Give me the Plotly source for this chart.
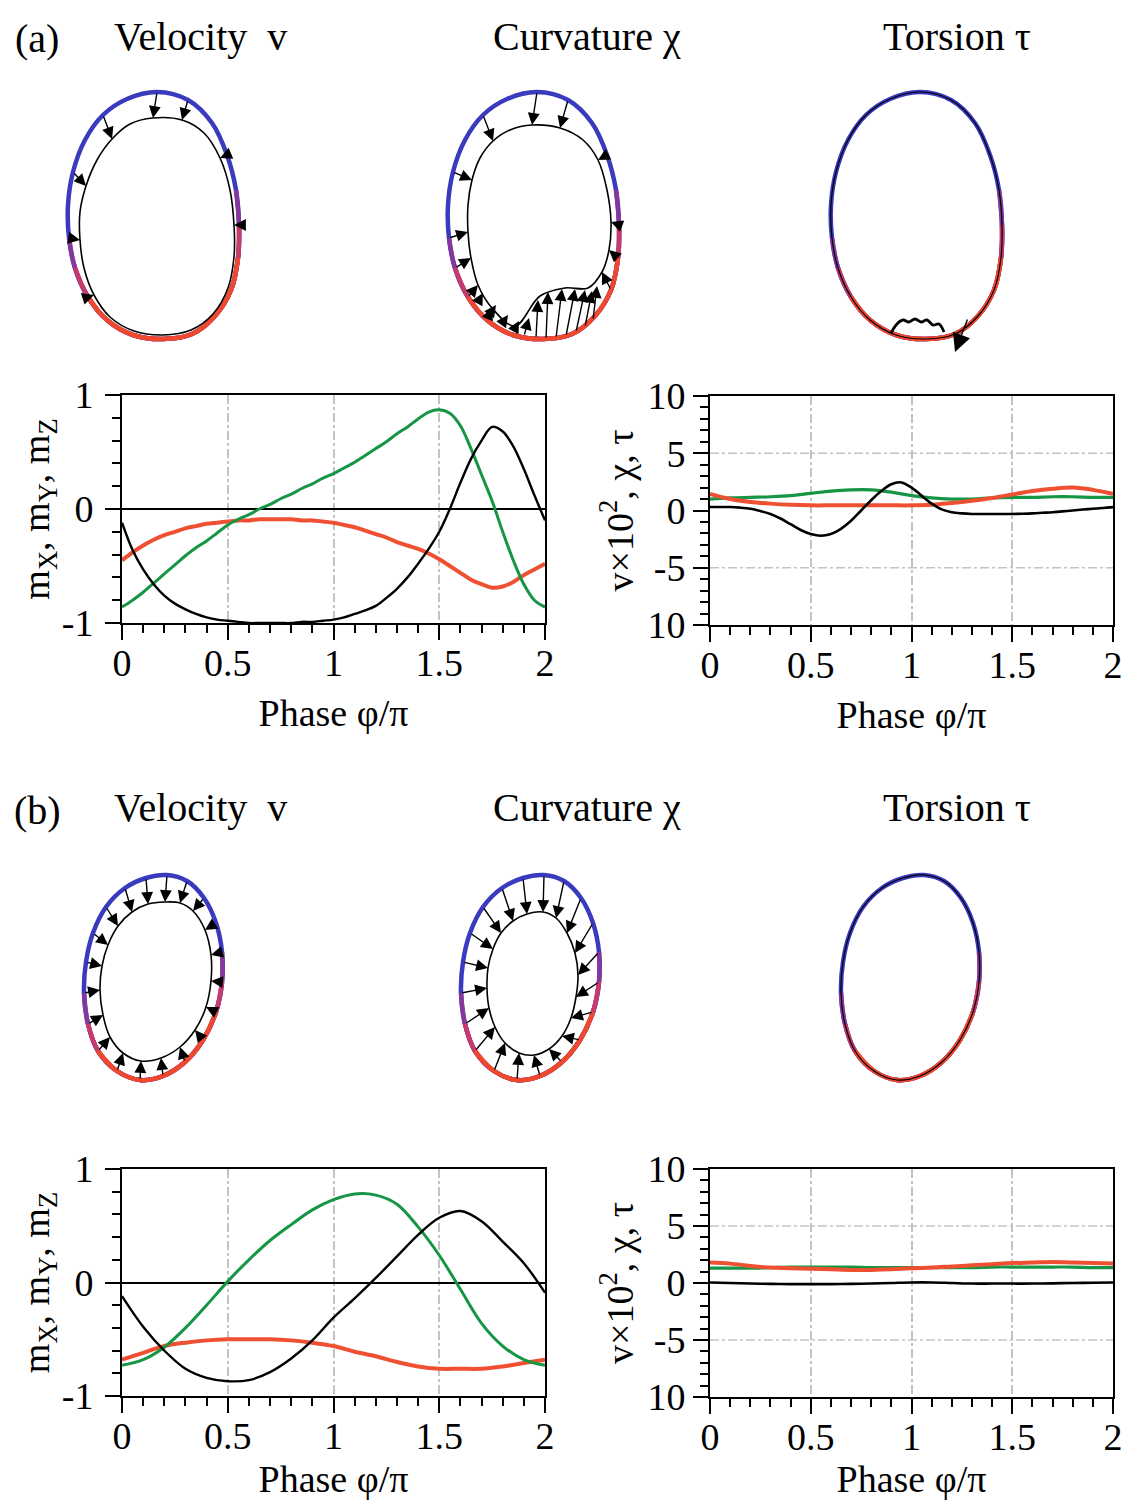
import plotly.graph_objects as go

FONT = "Liberation Serif"
# reference canvas is 1139x1508; the page body adds an 8px margin, so the figure is drawn 16px smaller
REF_W, REF_H = 1139, 1508
OFF = 8
W, H = REF_W - 2 * OFF, REF_H - 2 * OFF

# ---------------- line-plot data ----------------
phase41 = [0, 0.05, 0.1, 0.15, 0.2, 0.25, 0.3, 0.35, 0.4, 0.45, 0.5, 0.55, 0.6, 0.65, 0.7, 0.75,
           0.8, 0.85, 0.9, 0.95, 1.0, 1.05, 1.1, 1.15, 1.2, 1.25, 1.3, 1.35, 1.4, 1.45, 1.5, 1.55,
           1.6, 1.65, 1.7, 1.75, 1.8, 1.85, 1.9, 1.95, 2.0]
phase21 = [0, 0.1, 0.2, 0.3, 0.4, 0.5, 0.6, 0.7, 0.8, 0.9, 1.0, 1.1, 1.2, 1.3, 1.4, 1.5, 1.6,
           1.7, 1.8, 1.9, 2.0]

# panel (a) left : m components
m_black_a = [-0.12, -0.36, -0.53, -0.66, -0.76, -0.83, -0.88, -0.92, -0.95, -0.97, -0.98, -0.99,
             -1.0, -1.0, -1.0, -1.0, -1.0, -0.99, -0.99, -0.98, -0.97, -0.95, -0.92, -0.89, -0.85,
             -0.78, -0.70, -0.60, -0.48, -0.35, -0.2, 0.0, 0.23, 0.44, 0.6, 0.72, 0.68, 0.55, 0.35,
             0.12, -0.1]
m_green_a = [-0.86, -0.80, -0.73, -0.65, -0.57, -0.49, -0.41, -0.34, -0.28, -0.21, -0.14, -0.09,
             -0.05, 0.0, 0.04, 0.09, 0.13, 0.18, 0.22, 0.27, 0.31, 0.36, 0.41, 0.47, 0.53, 0.59,
             0.66, 0.72, 0.79, 0.85, 0.87, 0.84, 0.73, 0.53, 0.30, 0.07, -0.2, -0.45, -0.66, -0.80,
             -0.86]
m_red_a = [-0.45, -0.38, -0.32, -0.27, -0.23, -0.2, -0.17, -0.15, -0.13, -0.12, -0.11, -0.1, -0.1,
           -0.09, -0.09, -0.09, -0.09, -0.1, -0.1, -0.11, -0.12, -0.14, -0.16, -0.19, -0.22, -0.25,
           -0.29, -0.32, -0.35, -0.39, -0.44, -0.5, -0.56, -0.62, -0.66, -0.69, -0.68, -0.64, -0.58,
           -0.53, -0.48]

# panel (a) right : v*10^2, chi, tau
v_black_a = [0.3, 0.3, 0.3, 0.25, 0.15, -0.05, -0.3, -0.7, -1.2, -1.7, -2.05, -2.2, -2.05, -1.6,
             -0.9, 0.0, 0.9, 1.7, 2.3, 2.45, 2.0, 1.3, 0.6, 0.1, -0.15, -0.25, -0.3, -0.3, -0.3,
             -0.3, -0.3, -0.28, -0.25, -0.2, -0.15, -0.08, 0.0, 0.08, 0.15, 0.22, 0.3]
v_green_a = [1.0, 1.1, 1.15, 1.2, 1.3, 1.5, 1.7, 1.8, 1.8, 1.6, 1.3, 1.1, 1.0, 1.0, 1.1, 1.15,
             1.15, 1.2, 1.2, 1.15, 1.15]
v_red_a = [1.45, 1.0, 0.75, 0.6, 0.5, 0.45, 0.45, 0.45, 0.45, 0.45, 0.45, 0.5, 0.65, 0.85, 1.1,
           1.4, 1.7, 1.9, 2.0, 1.8, 1.45]

# panel (b) left
m_black_b = [-0.12, -0.39, -0.60, -0.76, -0.84, -0.87, -0.86, -0.79, -0.67, -0.51, -0.31, -0.14,
             0.04, 0.23, 0.42, 0.57, 0.63, 0.54, 0.36, 0.17, -0.09]
m_green_b = [-0.73, -0.68, -0.57, -0.40, -0.20, 0.01, 0.2, 0.37, 0.51, 0.64, 0.73, 0.78, 0.77,
             0.69, 0.49, 0.24, -0.06, -0.36, -0.56, -0.68, -0.73]
m_red_b = [-0.68, -0.62, -0.56, -0.53, -0.51, -0.5, -0.5, -0.5, -0.51, -0.53, -0.56, -0.61, -0.65,
           -0.7, -0.74, -0.76, -0.76, -0.76, -0.74, -0.71, -0.68]

# panel (b) right
v_black_b = [0.05, 0.0, -0.05, -0.08, -0.1, -0.1, -0.1, -0.08, -0.05, 0.0, 0.05, 0.05, 0.0, -0.05,
             -0.05, -0.05, -0.05, -0.03, 0.0, 0.02, 0.05]
v_green_b = [1.3, 1.3, 1.3, 1.35, 1.4, 1.4, 1.4, 1.4, 1.35, 1.35, 1.35, 1.35, 1.35, 1.35, 1.4, 1.4,
             1.4, 1.4, 1.4, 1.35, 1.35]
v_red_b = [1.8, 1.7, 1.5, 1.35, 1.3, 1.25, 1.2, 1.15, 1.15, 1.2, 1.3, 1.35, 1.45, 1.55, 1.65,
           1.75, 1.8, 1.85, 1.8, 1.75, 1.7]

x_tickvals = [0, 0.5, 1, 1.5, 2]
x_ticktext = ["0", "0.5", "1", "1.5", "2"]
m_tickvals = [-1, 0, 1]
m_ticktext = ["-1", "0", "1"]
v_tickvals = [-10, -5, 0, 5, 10]
v_ticktext = ["10", "-5", "0", "5", "10"]

# ---------------- loop drawings (local pixel units) ----------------
loop_a_x = [157, 127, 103, 85, 73, 68, 69, 75, 88, 107, 133, 163, 192, 215, 231, 238, 239, 236, 227, 212, 188]
loop_a_y = [92, 99, 115, 140, 172, 205, 238, 268, 297, 320, 335, 339, 334, 316, 290, 258, 225, 190, 155, 123, 100]
vel_in_a_x = [153, 130, 112, 97, 86, 80, 80, 84, 94, 110, 134, 163, 191, 213, 228, 234, 234, 230, 220, 204, 182]
vel_in_a_y = [118, 124, 139, 160, 186, 212, 240, 268, 295, 317, 331, 335, 330, 314, 288, 257, 225, 190, 158, 133, 120]
vel_arrows_a = [0, 2, 4, 6, 8, 16, 18, 20]
cur_in_a_x = [152, 130, 113, 100, 92, 88, 88, 91, 98, 112, 135, 160, 185, 208, 222, 229, 231, 227, 218, 203, 180]
cur_in_a_y = [125, 130, 141, 158, 180, 205, 232, 258, 285, 308, 326, 296, 288, 288, 272, 250, 222, 190, 160, 140, 128]
cur_arrows_a = [0, 2, 4, 6, 7, 8, 9, 14, 15, 16, 18, 20]
cur_extra_tail_x = [98, 109, 121, 133, 144, 156, 166, 176, 186, 196, 205, 213]
cur_extra_tail_y = [302, 315, 325, 332, 336, 338, 339, 338, 336, 332, 327, 320]
cur_extra_head_x = [103, 116, 128, 139, 149, 158, 168, 182, 195, 205, 212, 217]
cur_extra_head_y = [293, 305, 315, 321, 318, 300, 292, 289, 289, 290, 291, 286]
tor_bump_x = [128, 134, 140, 146, 152, 158, 164, 170, 176, 181]
tor_bump_y = [333, 324, 320, 322, 319, 322, 320, 325, 324, 332]
tor_arrow_tail = [205, 318]
tor_arrow_head = [192, 352]

loop_b_x = [167, 146, 125, 106, 93, 86, 84, 88, 98, 117, 140, 163, 185, 203, 216, 222, 222, 216, 204, 187]
loop_b_y = [875, 878, 888, 907, 933, 962, 993, 1024, 1051, 1071, 1080, 1076, 1062, 1040, 1012, 982, 952, 923, 898, 881]
vel_in_b_x = [165, 148, 132, 118, 108, 102, 100, 103, 110, 123, 141, 161, 180, 195, 206, 211, 211, 205, 193, 180]
vel_in_b_y = [902, 904, 912, 926, 945, 966, 990, 1015, 1037, 1053, 1061, 1058, 1047, 1030, 1007, 981, 955, 930, 911, 903]
cur_in_b_x = [166, 150, 136, 124, 116, 111, 110, 112, 118, 128, 142, 157, 172, 185, 194, 199, 201, 198, 190, 179]
cur_in_b_y = [912, 914, 921, 933, 949, 968, 988, 1008, 1027, 1043, 1053, 1055, 1049, 1036, 1018, 997, 975, 953, 933, 918]
all_arrows_b = list(range(20))

BLUE = "rgb(58,58,190)"
PURPLE = "rgb(135,55,155)"
MAGENTA = "rgb(200,58,105)"
RED = "rgb(238,72,45)"
LINE_RED = "rgb(240,80,50)"
LINE_GREEN = "rgb(22,150,68)"
GRID = "rgb(195,195,195)"

bands_a = [(6, 17, PURPLE), (7, 16, MAGENTA), (8, 15, RED)]
bands_b = [(6, 16, PURPLE), (7, 15, MAGENTA), (8, 14, RED)]

fig = go.Figure()


def dom_x(p0, p1):
    return [max(0.0, (p0 - OFF) / W), min(1.0, (p1 - OFF) / W)]


def dom_y(ptop, pbot):
    return [max(0.0, 1 - (pbot - OFF) / H), min(1.0, 1 - (ptop - OFF) / H)]


def closed(v):
    return list(v) + [v[0]]


def add_outer(xs, ys, xa, ya, bands, black_overlay=False):
    fig.add_trace(go.Scatter(x=closed(xs), y=closed(ys), mode="lines", xaxis=xa, yaxis=ya,
                             line=dict(color=BLUE, width=4.5, shape="spline"),
                             hoverinfo="skip", showlegend=False))
    for i0, i1, col in bands:
        fig.add_trace(go.Scatter(x=xs[i0:i1 + 1], y=ys[i0:i1 + 1], mode="lines", xaxis=xa, yaxis=ya,
                                 line=dict(color=col, width=4.5, shape="spline"),
                                 hoverinfo="skip", showlegend=False))
    if black_overlay:
        fig.add_trace(go.Scatter(x=closed(xs), y=closed(ys), mode="lines", xaxis=xa, yaxis=ya,
                                 line=dict(color="black", width=1.2, shape="spline"),
                                 hoverinfo="skip", showlegend=False))


def add_inner(xs, ys, xa, ya):
    fig.add_trace(go.Scatter(x=closed(xs), y=closed(ys), mode="lines", xaxis=xa, yaxis=ya,
                             line=dict(color="black", width=1.6, shape="spline"),
                             hoverinfo="skip", showlegend=False))


annotations = []


def arrow(xa, ya, tx, ty, hx, hy, size=1.7):
    annotations.append(dict(xref=xa, yref=ya, axref=xa, ayref=ya, x=hx, y=hy, ax=tx, ay=ty,
                            text="", showarrow=True, arrowhead=2, arrowsize=size, arrowwidth=1.4,
                            arrowcolor="black", standoff=0, startstandoff=0, font=dict(size=1)))


# row (a) loops
add_outer(loop_a_x, loop_a_y, "x5", "y5", bands_a)
add_inner(vel_in_a_x, vel_in_a_y, "x5", "y5")
for i in vel_arrows_a:
    arrow("x5", "y5", loop_a_x[i], loop_a_y[i], vel_in_a_x[i], vel_in_a_y[i])

add_outer(loop_a_x, loop_a_y, "x6", "y6", bands_a)
add_inner(cur_in_a_x, cur_in_a_y, "x6", "y6")
for i in cur_arrows_a:
    arrow("x6", "y6", loop_a_x[i], loop_a_y[i], cur_in_a_x[i], cur_in_a_y[i])
for tx, ty, hx, hy in zip(cur_extra_tail_x, cur_extra_tail_y, cur_extra_head_x, cur_extra_head_y):
    arrow("x6", "y6", tx, ty, hx, hy)

add_outer(loop_a_x, loop_a_y, "x7", "y7", bands_a, black_overlay=True)
fig.add_trace(go.Scatter(x=tor_bump_x, y=tor_bump_y, mode="lines", xaxis="x7", yaxis="y7",
                         line=dict(color="black", width=2.8, shape="spline"),
                         hoverinfo="skip", showlegend=False))
arrow("x7", "y7", tor_arrow_tail[0], tor_arrow_tail[1], tor_arrow_head[0], tor_arrow_head[1], size=2.6)

# row (b) loops
add_outer(loop_b_x, loop_b_y, "x8", "y8", bands_b)
add_inner(vel_in_b_x, vel_in_b_y, "x8", "y8")
for i in all_arrows_b:
    arrow("x8", "y8", loop_b_x[i], loop_b_y[i], vel_in_b_x[i], vel_in_b_y[i])

add_outer(loop_b_x, loop_b_y, "x9", "y9", bands_b)
add_inner(cur_in_b_x, cur_in_b_y, "x9", "y9")
for i in all_arrows_b:
    arrow("x9", "y9", loop_b_x[i], loop_b_y[i], cur_in_b_x[i], cur_in_b_y[i])

add_outer(loop_b_x, loop_b_y, "x10", "y10", bands_b, black_overlay=True)

# ---------------- line plots ----------------
def line(x, y, xa, ya, color, width):
    fig.add_trace(go.Scatter(x=x, y=y, mode="lines", xaxis=xa, yaxis=ya,
                             line=dict(color=color, width=width, shape="spline"),
                             hoverinfo="skip", showlegend=False))


line(phase41, m_red_a, "x", "y", LINE_RED, 4)
line(phase41, m_green_a, "x", "y", LINE_GREEN, 3)
line(phase41, m_black_a, "x", "y", "black", 2.4)

line(phase21, v_green_a, "x2", "y2", LINE_GREEN, 3.2)
line(phase21, v_red_a, "x2", "y2", LINE_RED, 4)
line(phase41, v_black_a, "x2", "y2", "black", 2.6)

line(phase21, m_red_b, "x3", "y3", LINE_RED, 4)
line(phase21, m_green_b, "x3", "y3", LINE_GREEN, 3)
line(phase21, m_black_b, "x3", "y3", "black", 2.4)

line(phase21, v_green_b, "x4", "y4", LINE_GREEN, 3.2)
line(phase21, v_red_b, "x4", "y4", LINE_RED, 4)
line(phase21, v_black_b, "x4", "y4", "black", 2.6)

tickfont = dict(family=FONT, size=38, color="black")
titlefont = dict(family=FONT, size=38, color="black")


def xax(domain, anchor):
    return dict(domain=domain, anchor=anchor, range=[0, 2], tickmode="array", automargin=False,
                tickvals=x_tickvals, ticktext=x_ticktext, ticks="outside", ticklen=15,
                tickwidth=2, tickcolor="black", ticklabelstandoff=-10,
                minor=dict(dtick=0.1, tick0=0, ticks="outside", ticklen=8, tickwidth=2,
                           tickcolor="black", showgrid=False),
                showline=True, linewidth=2, linecolor="black", mirror=True,
                showgrid=True, gridcolor=GRID, griddash="dashdot", gridwidth=1.5,
                zeroline=False, tickfont=tickfont,
                title=dict(text="Phase φ/π", font=titlefont, standoff=17))


def yax_m(domain, anchor):
    return dict(domain=domain, anchor=anchor, range=[-1, 1], tickmode="array", automargin=False,
                tickvals=m_tickvals, ticktext=m_ticktext, ticks="outside", ticklen=15,
                tickwidth=2, tickcolor="black", ticklabelstandoff=4,
                minor=dict(dtick=0.2, tick0=0, ticks="outside", ticklen=8, tickwidth=2,
                           tickcolor="black", showgrid=False),
                showline=True, linewidth=2, linecolor="black", mirror=True,
                showgrid=False, zeroline=True, zerolinecolor="black", zerolinewidth=2,
                tickfont=tickfont,
                title=dict(text="m<sub>X</sub>, m<sub>Y</sub>, m<sub>Z</sub>", font=titlefont, standoff=0))


def yax_v(domain, anchor):
    return dict(domain=domain, anchor=anchor, range=[-10, 10], tickmode="array", automargin=False,
                tickvals=v_tickvals, ticktext=v_ticktext, ticks="outside", ticklen=15,
                tickwidth=2, tickcolor="black",
                minor=dict(dtick=1, tick0=0, ticks="outside", ticklen=8, tickwidth=2,
                           tickcolor="black", showgrid=False),
                showline=True, linewidth=2, linecolor="black", mirror=True,
                showgrid=False, zeroline=False, tickfont=tickfont,
                title=dict(text="v×10<sup>2</sup>, χ, τ", font=titlefont, standoff=2))


def hidden_x(p0, p1, col_off, anchor):
    a, b = max(p0, OFF), min(p1, REF_W - OFF)
    return dict(domain=dom_x(a, b), range=[a - col_off, b - col_off], anchor=anchor, visible=False,
                fixedrange=True, showgrid=False, zeroline=False, automargin=False)


def hidden_y(ptop, pbot, anchor):
    return dict(domain=dom_y(ptop, pbot), range=[pbot, ptop], anchor=anchor, visible=False,
                fixedrange=True, showgrid=False, zeroline=False, automargin=False)


layout = dict(
    width=W, height=H, margin=dict(l=0, r=0, t=0, b=0, pad=0, autoexpand=False),
    paper_bgcolor="white", plot_bgcolor="rgba(0,0,0,0)", showlegend=False,
    font=dict(family=FONT, color="black"),
    xaxis=xax(dom_x(122, 545), "y"), yaxis=yax_m(dom_y(395, 623), "x"),
    xaxis2=xax(dom_x(710, 1113), "y2"), yaxis2=yax_v(dom_y(396, 625), "x2"),
    xaxis3=xax(dom_x(122, 545), "y3"), yaxis3=yax_m(dom_y(1169, 1396), "x3"),
    xaxis4=xax(dom_x(710, 1113), "y4"), yaxis4=yax_v(dom_y(1169, 1397), "x4"),
    xaxis5=hidden_x(0, 380, 0, "y5"), yaxis5=hidden_y(60, 370, "x5"),
    xaxis6=hidden_x(380, 760, 380, "y6"), yaxis6=hidden_y(60, 370, "x6"),
    xaxis7=hidden_x(763, 1139, 763, "y7"), yaxis7=hidden_y(60, 370, "x7"),
    xaxis8=hidden_x(0, 377, 0, "y8"), yaxis8=hidden_y(840, 1130, "x8"),
    xaxis9=hidden_x(377, 757, 377, "y9"), yaxis9=hidden_y(840, 1130, "x9"),
    xaxis10=hidden_x(757, 1139, 757, "y10"), yaxis10=hidden_y(840, 1130, "x10"),
)
fig.update_layout(**layout)

# dash-dot horizontal guides at +/-5 on the right-hand plots
for ya, xa in (("y2", "x2"), ("y4", "x4")):
    for yv in (5, -5):
        fig.add_shape(type="line", xref=f"{xa} domain", yref=ya, x0=0, x1=1, y0=yv, y1=yv,
                      line=dict(color=GRID, width=1.5, dash="dashdot"), layer="below")

# titles (positions in reference pixels)
title_items = [("(a)", 37, 38), ("Velocity\u2002v", 200, 36), ("Curvature χ", 587, 36), ("Torsion τ", 957, 36),
               ("(b)", 37, 810), ("Velocity\u2002v", 200, 807), ("Curvature χ", 587, 807), ("Torsion τ", 957, 807)]
for txt, px, py in title_items:
    annotations.append(dict(xref="paper", yref="paper", x=(px - OFF) / W, y=1 - (py - OFF) / H, text=txt,
                            showarrow=False, xanchor="center", yanchor="middle",
                            font=dict(family=FONT, size=40, color="black")))

fig.update_layout(annotations=annotations)
fig.write_html("out.html")
